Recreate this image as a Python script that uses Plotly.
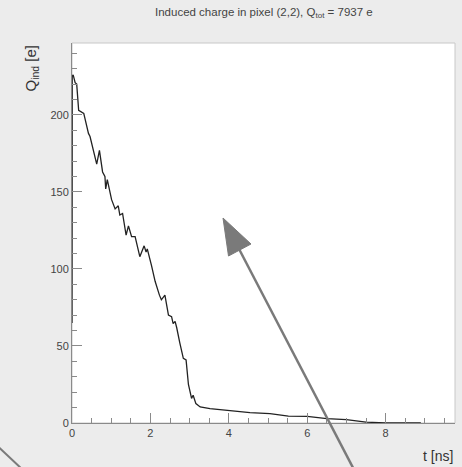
import plotly.graph_objects as go

# Data (time in ns, induced charge in e)
t_ns = [0.0, 0.005, 0.03, 0.08, 0.12, 0.17, 0.30, 0.37, 0.42, 0.46, 0.55, 0.63, 0.70,
        0.78, 0.84, 0.86, 0.90, 1.01, 1.10, 1.18, 1.22, 1.29, 1.38, 1.44, 1.52, 1.61,
        1.73, 1.84, 1.89, 1.92, 2.03, 2.12, 2.23, 2.28, 2.37, 2.46, 2.54, 2.58, 2.63,
        2.67, 2.75, 2.84, 2.91, 2.97, 3.05, 3.09, 3.16, 3.27, 3.52, 4.03, 4.54, 5.05,
        5.52, 6.0, 6.5, 7.0, 7.5, 8.0, 8.9]
q_ind = [65, 225, 226, 221, 220, 203, 201, 192, 188, 186, 176, 168, 177,
         163, 160, 152, 158, 145, 139, 141, 135, 136, 122, 128, 121, 121,
         108, 115, 111, 113, 102, 92, 83, 80, 83, 70, 69, 64.5, 66,
         62, 52, 42, 41, 25, 16, 18, 12.6, 10.4, 9.3, 8.2, 6.7, 6.1,
         4.5, 4.3, 2.9, 2.2, 0.6, 0.0, 0.0]

title_text = "Induced charge in pixel (2,2), Q<sub>tot</sub> = 7937 e"
x_title = "t [ns]"
y_title = "Q<sub>ind</sub> [e]"

W, H = 462, 467
L, R, T, B = 72, 7, 43, 44
pw, ph = W - L - R, H - T - B

def px(x):
    return (x - L) / pw

def py(y):
    return (H - B - y) / ph

fig = go.Figure()
fig.add_trace(go.Scatter(x=t_ns, y=q_ind, mode="lines",
                         line=dict(color="#222222", width=1.3),
                         hoverinfo="skip", showlegend=False))

font = "Liberation Sans, Arial, Helvetica, sans-serif"
axis_common = dict(showgrid=False, zeroline=False, showline=True, linecolor="#8a8a8a",
                   linewidth=1, ticks="inside", tickcolor="#8a8a8a", ticklen=10,
                   tickfont=dict(family=font, size=11, color="#444444"))

fig.update_xaxes(range=[0, 9.77], dtick=2, tick0=0,
                 minor=dict(ticks="inside", dtick=0.5, ticklen=5, tickcolor="#8a8a8a"),
                 **axis_common)
fig.update_yaxes(range=[0, 246.7], dtick=50, tick0=0,
                 minor=dict(ticks="inside", dtick=10, ticklen=5, tickcolor="#8a8a8a"),
                 **axis_common)

# frame (top/right edges lighter)
fig.add_shape(type="rect", xref="paper", yref="paper", x0=0, x1=1, y0=0, y1=1,
              line=dict(color="#c8c8c8", width=1), layer="below")

# big gray arrow
gray = "#7a7a7a"
fig.add_shape(type="line", xref="paper", yref="paper",
              x0=px(238), y0=py(247), x1=px(362), y1=py(485),
              line=dict(color=gray, width=2.5))
fig.add_shape(type="path", xref="paper", yref="paper",
              path=f"M {px(223)},{py(218)} L {px(228.5)},{py(256)} L {px(251)},{py(244)} Z",
              fillcolor=gray, line=dict(color=gray, width=1))
# stray line bottom-left
fig.add_shape(type="line", xref="paper", yref="paper",
              x0=px(-3), y0=py(445.5), x1=px(24), y1=py(471),
              line=dict(color=gray, width=2))

fig.add_annotation(text=title_text, xref="paper", yref="paper", x=0.5, y=py(13),
                   xanchor="center", yanchor="middle", showarrow=False,
                   font=dict(family=font, size=11.5, color="#444444"))
fig.add_annotation(text=x_title, xref="paper", yref="paper", x=1, y=py(456),
                   xanchor="right", yanchor="middle", showarrow=False,
                   font=dict(family=font, size=14, color="#333333"))
fig.add_annotation(text=y_title, xref="paper", yref="paper", x=px(31), y=1,
                   xanchor="center", yanchor="top", textangle=-90, showarrow=False,
                   font=dict(family=font, size=15, color="#333333"))

fig.update_layout(width=W, height=H, margin=dict(l=L, r=R, t=T, b=B),
                  paper_bgcolor="#ececec", plot_bgcolor="#ffffff",
                  showlegend=False)

fig.write_html("out.html", config={"displayModeBar": False},
               post_script="document.body.style.margin='0';"
                           "document.body.style.overflow='hidden';"
                           "document.body.style.background='#ececec';")
